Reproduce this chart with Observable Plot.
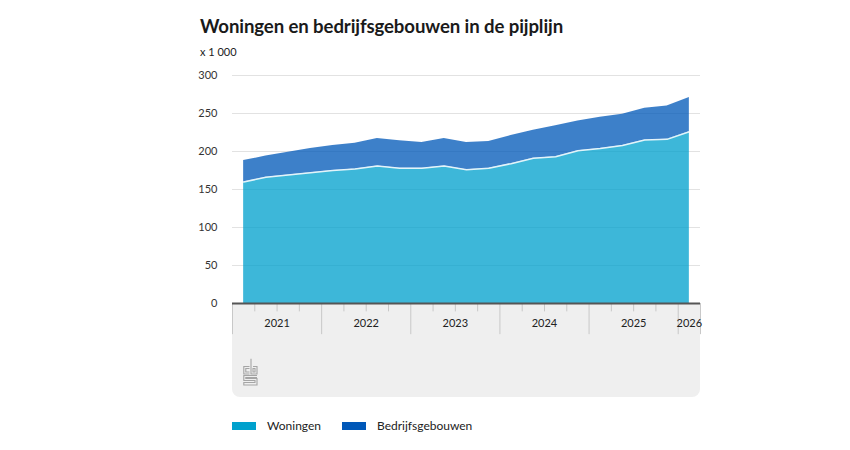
<!DOCTYPE html>
<html>
<head>
<meta charset="utf-8">
<script src="https://cdn.jsdelivr.net/npm/d3@7"></script>
<script src="https://cdn.jsdelivr.net/npm/@observablehq/plot@0.6"></script>
<style>
  html, body { margin: 0; padding: 0; background: #fff; }
  body { width: 850px; height: 450px; position: relative; font-family: Lato, "Open Sans", sans-serif; color: #222; overflow: hidden; }
  #title { position: absolute; left: 200px; top: 15px; font-size: 18.6px; font-weight: bold; color: #1a1a1a; letter-spacing: -0.1px; white-space: nowrap; }
  #subtitle { position: absolute; left: 200px; top: 45px; font-size: 11px; color: #222; }
  #band { position: absolute; left: 232px; top: 303px; width: 468px; height: 94px; background: #efefef; border-radius: 0 0 8px 8px; }
  #logo { position: absolute; left: 243px; top: 358px; }
  #chart { position: absolute; left: 0; top: 60px; }
  #legend { position: absolute; left: 232px; top: 418px; display: flex; align-items: center; font-size: 12px; color: #222; }
  .item { display: flex; align-items: center; margin-right: 20px; }
  .sw { width: 24px; height: 8px; margin-right: 11px; }
</style>
</head>
<body>
<div id="title">Woningen en bedrijfsgebouwen in de pijplijn</div>
<div id="subtitle">x 1 000</div>
<div id="band"></div>
<svg id="logo" width="15" height="28" viewBox="0 0 15 28" fill="none" stroke="#a5a5a5" stroke-width="1.1">
  <path d="M6.5 8.5 H0.8 V16 H6.5"/>
  <path d="M6.5 10.5 H2.8 V14 H6.5"/>
  <path d="M8 0.8 V16 H14 V8.5 H10"/>
  <path d="M10 10.5 H12 V14 H10 Z"/>
  <path d="M14 17.5 H0.8 V22.5 H12 V24.5 H0.8 V27 H14 V20.5 H2.8 V19.5 H14"/>
</svg>
<div id="chart"></div>
<div id="legend"></div>
<script>
// Quarterly data (x 1 000)
const kwartalen = ["2021 K1","2021 K2","2021 K3","2021 K4","2022 K1","2022 K2","2022 K3","2022 K4",
  "2023 K1","2023 K2","2023 K3","2023 K4","2024 K1","2024 K2","2024 K3","2024 K4",
  "2025 K1","2025 K2","2025 K3","2025 K4","2026 K1"];
const woningen = [160,166,169,172,175,177,181,178,178,181,176,178,184,191,193,201,204,208,215,216,226];
const bedrijfsgebouwen = [28,28,30,32,33,34,36,36,34,36,36,35,37,37,41,39,41,41,42,44,45];
const seriesNames = ["Woningen","Bedrijfsgebouwen"];
const seriesColors = ["#00a1cd","#0058b8"];
const yTicks = [0,50,100,150,200,250,300];
const jaren = ["2021","2022","2023","2024","2025","2026"];

// derived positions: fractional year at center of each quarter
const parseQ = k => { const [y, q] = k.split(" K"); return {year: +y, q: +q}; };
const xOf = k => { const {year, q} = parseQ(k); return year + (q - 0.5) / 4; };
const xStart = k => { const {year, q} = parseQ(k); return year + (q - 1) / 4; };

const rows = [];
kwartalen.forEach((k, i) => {
  rows.push({kwartaal: k, x: xOf(k), serie: "Woningen", value: woningen[i]});
  rows.push({kwartaal: k, x: xOf(k), serie: "Bedrijfsgebouwen", value: bedrijfsgebouwen[i]});
});
const wonRows = rows.filter(d => d.serie === "Woningen");

const xMin = xStart(kwartalen[0]);
const xMax = xStart(kwartalen[kwartalen.length - 1]) + 0.25;
const quarterBounds = kwartalen.map(xStart).filter(v => Math.abs(v - Math.round(v)) > 1e-9);
const yearBounds = jaren.map(Number).filter(y => y >= xMin && y <= xMax).concat([xMax]);
const yearLabels = jaren.map(j => {
  const y = +j; const a = Math.max(y, xMin), b = Math.min(y + 1, xMax);
  return {label: j, x: (a + b) / 2};
});

const chart = Plot.plot({
  width: 850,
  height: 340,
  marginLeft: 232,
  marginRight: 150,
  marginTop: 15,
  marginBottom: 97,
  style: {fontFamily: "Lato, 'Open Sans', sans-serif", fontSize: "11px", color: "#333", background: "transparent", overflow: "visible"},
  x: {domain: [xMin, xMax], axis: null},
  y: {domain: [0, 300], ticks: yTicks, tickSize: 0, tickPadding: 15, label: null, tickFormat: d => String(d)},
  color: {domain: seriesNames, range: seriesColors},
  marks: [
    Plot.ruleY(yTicks.filter(d => d > 0), {stroke: "#e2e2e2", strokeWidth: 1}),
    Plot.areaY(rows, {x: "x", y: "value", fill: "serie", z: "serie", order: seriesNames, fillOpacity: 0.76}),
    Plot.lineY(wonRows, {x: "x", y: "value", stroke: "#ffffff", strokeWidth: 1.5, strokeOpacity: 0.85}),
    Plot.ruleX(quarterBounds, {x: d => d, y1: 0, y2: -11, stroke: "#c8c8c8", strokeWidth: 1}),
    Plot.ruleX(yearBounds, {x: d => d, y1: 0, y2: -41, stroke: "#c8c8c8", strokeWidth: 1}),
    Plot.ruleY([0], {stroke: "#555", strokeWidth: 2}),
    Plot.text(yearLabels, {x: "x", y: 0, text: "label", dy: 20, fill: "#222", fontSize: 11})
  ]
});
document.getElementById("chart").appendChild(chart);

const legend = document.getElementById("legend");
seriesNames.forEach((n, i) => {
  const it = document.createElement("div"); it.className = "item";
  if (i === 0) it.style.marginRight = "21px";
  const sw = document.createElement("div"); sw.className = "sw"; sw.style.background = seriesColors[i];
  const t = document.createElement("span"); t.textContent = n;
  it.appendChild(sw); it.appendChild(t); legend.appendChild(it);
});
</script>
</body>
</html>
